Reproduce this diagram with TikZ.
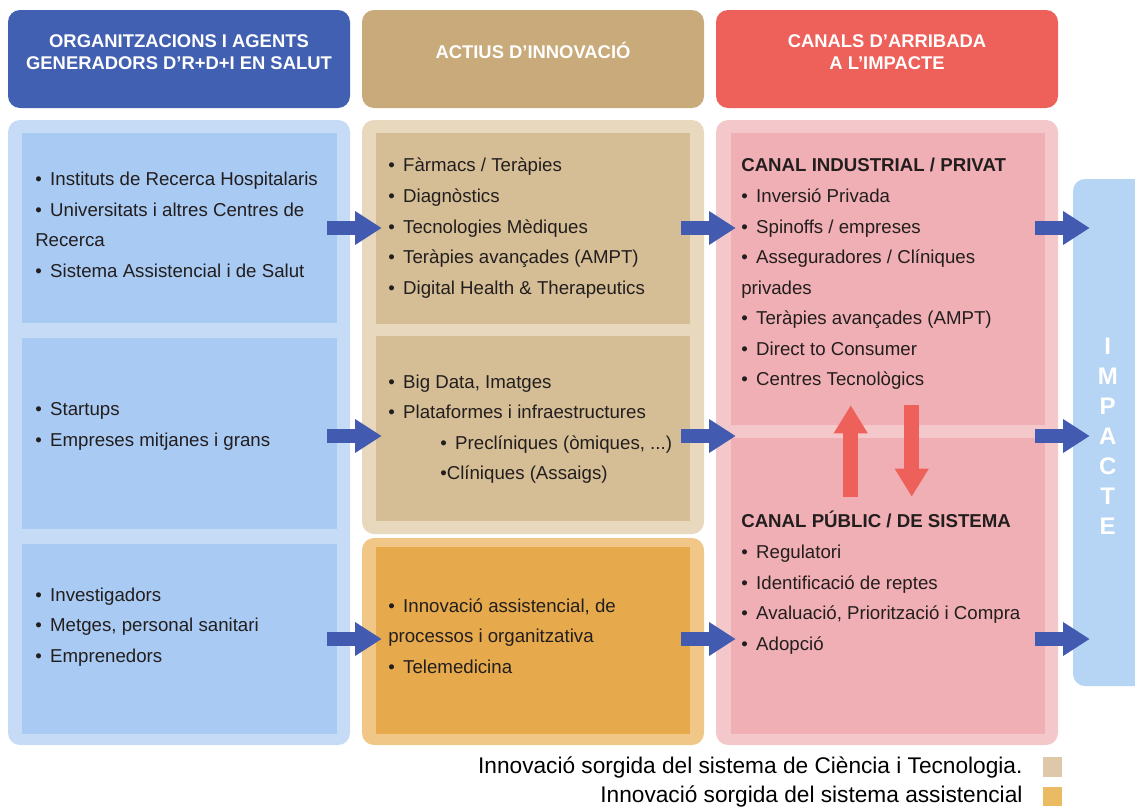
\documentclass[tikz,border=0pt]{standalone}
\usepackage{fontspec}
\setmainfont{Liberation Sans}
\usetikzlibrary{calc,positioning,fit,arrows.meta}

\definecolor{hdrblue}{RGB}{66,96,178}
\definecolor{hdrtan}{RGB}{201,170,122}
\definecolor{hdrred}{RGB}{238,96,90}
\definecolor{agentbg}{RGB}{197,219,246}
\definecolor{agentfg}{RGB}{168,202,243}
\definecolor{actiubg}{RGB}{231,216,190}
\definecolor{actiufg}{RGB}{213,190,150}
\definecolor{assistbg}{RGB}{240,199,135}
\definecolor{assistfg}{RGB}{230,170,76}
\definecolor{canalbg}{RGB}{244,200,203}
\definecolor{canalfg}{RGB}{240,175,180}
\definecolor{impactbg}{RGB}{182,212,243}
\definecolor{flowblue}{RGB}{66,90,175}
\definecolor{keytan}{RGB}{221,201,170}
\definecolor{keyorange}{RGB}{235,187,100}
\definecolor{ink}{RGB}{35,30,30}

\newcommand{\bul}{•\hspace{0.45em}}

\tikzset{
  hdr/.style={inner sep=0pt, rounded corners=9pt, text=white, align=center,
    font=\fontsize{13.8}{16.5}\selectfont\bfseries},
  panel/.style={inner sep=0pt, rounded corners=9pt},
  cell/.style={inner sep=0pt},
  % ancorat a la línia base de l'última línia
  txt/.style={inner sep=0pt, anchor=base west, align=left, text=ink,
    font=\fontsize{14}{22.9}\selectfont},
  flow/.style={draw=flowblue, line width=10.5pt,
    -{Triangle[length=20pt,width=24pt]}},
  swap/.style={draw=hdrred, line width=11.25pt,
    -{Triangle[length=21pt,width=24pt]}},
  impt/.style={inner sep=0pt, text=white, align=center,
    font=\fontsize{18}{22.5}\selectfont\bfseries},
  lgd/.style={inner sep=0pt, text=black, font=\fontsize{17}{20}\selectfont},
  keybox/.style={inner sep=0pt}
}

\begin{document}
\begin{tikzpicture}[x=0.75pt,y=-0.75pt]
\useasboundingbox (0,0) rectangle (1135,807);

% capçaleres
\node[hdr, fill=hdrblue, fit={(8,10) (350,108)}] (h1) {ORGANITZACIONS I AGENTS\\GENERADORS D’R+D+I EN SALUT};
\node[hdr, fill=hdrtan, fit={(362,10) (704,108)}] (h2) {ACTIUS D’INNOVACIÓ};
\node[hdr, fill=hdrred, fit={(716,10) (1058,108)}] (h3) {CANALS D’ARRIBADA\\A L’IMPACTE};

% columnes
\node[panel, fill=agentbg, fit={(8,120) (350,745)}] (p1) {};
\node[panel, fill=actiubg, fit={(362,120) (704,534)}] (p2) {};
\node[panel, fill=assistbg, fit={(362,538) (704,745)}] (p3) {};
\node[panel, fill=canalbg, fit={(716,120) (1058,745)}] (p4) {};
\node[panel, fill=impactbg, fit={(1073,179) (1150,686)}] (imp) {};

\node[cell, fill=agentfg, fit={(22,133) (337,323)}] (a1) {};
\node[cell, fill=agentfg, fit={(22,338) (337,529)}] (a2) {};
\node[cell, fill=agentfg, fit={(22,544) (337,734)}] (a3) {};
\node[cell, fill=actiufg, fit={(376,133) (690,324)}] (b1) {};
\node[cell, fill=actiufg, fit={(376,336) (690,521)}] (b2) {};
\node[cell, fill=assistfg, fit={(376,547) (690,734)}] (b3) {};
\node[cell, fill=canalfg, fit={(731,133) (1045,425)}] (c1) {};
\node[cell, fill=canalfg, fit={(731,438) (1045,734)}] (c2) {};

% textos
\node[txt] (a1t) at (35,277.1) {\bul Instituts de Recerca Hospitalaris\\\bul Universitats i altres Centres de\\Recerca\\\bul Sistema Assistencial i de Salut};
\node[txt] (a2t) at (35,446.5) {\bul Startups\\\bul Empreses mitjanes i grans};
\node[txt] (a3t) at (35,662.1) {\bul Investigadors\\\bul Metges, personal sanitari\\\bul Emprenedors};

\node[txt] (b1t) at (388,294.1) {\bul Fàrmacs / Teràpies\\\bul Diagnòstics\\\bul Tecnologies Mèdiques\\\bul Teràpies avançades (AMPT)\\\bul Digital Health \& Therapeutics};
\node[txt] (b2t) at (388,479.6) {\bul Big Data, Imatges\\\bul Plataformes i infraestructures\\\hspace*{39pt}\bul Preclíniques (òmiques, ...)\\\hspace*{39pt}•Clíniques (Assaigs)};
\node[txt] (b3t) at (388,673.1) {\bul Innovació assistencial, de\\processos i organitzativa\\\bul Telemedicina};

\node[txt] (c1t) at (741,385.7) {\textbf{CANAL INDUSTRIAL / PRIVAT}\\\bul Inversió Privada\\\bul Spinoffs / empreses\\\bul Asseguradores / Clíniques\\privades\\\bul Teràpies avançades (AMPT)\\\bul Direct to Consumer\\\bul Centres Tecnològics};
\node[txt] (c2t) at (741,650.1) {\textbf{CANAL PÚBLIC / DE SISTEMA}\\\bul Regulatori\\\bul Identificació de reptes\\\bul Avaluació, Priorització i Compra\\\bul Adopció};

\node[impt] (impt) at ($(imp.west)+(35,3.5)$) {I\\M\\P\\A\\C\\T\\E};

% fletxes
\coordinate (r1) at (0,228);
\coordinate (r2) at (0,436);
\coordinate (r3) at (0,639);
\foreach \r/\a/\b in {r1/a1/b1, r2/a2/b2, r3/a3/b3} {
  \draw[flow] ($(\a.east |- \r)+(-10,0)$) -- ($(\b.west |- \r)+(6,0)$);
  \draw[flow] ($(\b.east |- \r)+(-9,0)$) -- ($(c1.west |- \r)+(5,0)$);
  \draw[flow] ($(c1.east |- \r)+(-10,0)$) -- ($(imp.west |- \r)+(17,0)$);
}
\draw[swap] ($(c2.north west)+(120,59)$) -- ($(c1.south west)+(120,-20)$);
\draw[swap] ($(c1.south west)+(181,-20)$) -- ($(c2.north west)+(181,59)$);

% llegenda
\node[keybox, fill=keytan, fit={(1043,757) (1062,777)}] (k1) {};
\node[keybox, fill=keyorange, fit={(1043,787) (1062,806)}] (k2) {};
\node[lgd, left=15pt of k1] (l1) {Innovació sorgida del sistema de Ciència i Tecnologia.};
\node[lgd, left=15pt of k2] (l2) {Innovació sorgida del sistema assistencial};
\end{tikzpicture}
\end{document}
